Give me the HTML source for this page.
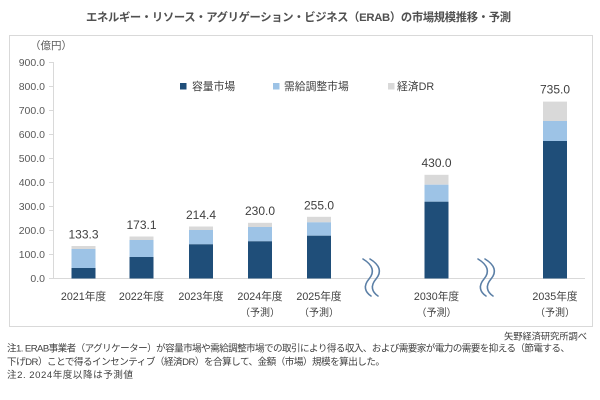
<!DOCTYPE html>
<html lang="ja">
<head>
<meta charset="utf-8">
<style>
  html,body{margin:0;padding:0;background:#fff;}
  body{width:600px;height:400px;overflow:hidden;}
  svg{display:block;font-family:"Liberation Sans","Noto Sans CJK JP",sans-serif;}
</style>
</head>
<body>
<svg width="600" height="400" viewBox="0 0 600 400" xmlns="http://www.w3.org/2000/svg">
  <rect x="0" y="0" width="600" height="400" fill="#fff"/>
  <text x="86" y="21" font-size="11.3" font-weight="bold" fill="#505050" textLength="425">エネルギー・リソース・アグリゲーション・ビジネス（ERAB）の市場規模推移・予測</text>

  <rect x="9.5" y="35.5" width="583" height="291" fill="none" stroke="#d9d9d9" stroke-width="1"/>

  <text x="51" y="49" font-size="10.5" fill="#595959" text-anchor="middle">（億円）</text>

  <g stroke="#d9d9d9" stroke-width="1">
    <line x1="53.5" y1="62" x2="53.5" y2="278"/>
    <line x1="49" y1="62.5" x2="53.5" y2="62.5"/>
    <line x1="49" y1="86.5" x2="53.5" y2="86.5"/>
    <line x1="49" y1="110.5" x2="53.5" y2="110.5"/>
    <line x1="49" y1="134.5" x2="53.5" y2="134.5"/>
    <line x1="49" y1="158.5" x2="53.5" y2="158.5"/>
    <line x1="49" y1="182.5" x2="53.5" y2="182.5"/>
    <line x1="49" y1="206.5" x2="53.5" y2="206.5"/>
    <line x1="49" y1="230.5" x2="53.5" y2="230.5"/>
    <line x1="49" y1="254.5" x2="53.5" y2="254.5"/>
    <line x1="49" y1="278.5" x2="585" y2="278.5"/>
  </g>
  <g font-size="10.5" fill="#595959" text-anchor="end">
    <text x="45" y="66">900.0</text>
    <text x="45" y="90">800.0</text>
    <text x="45" y="114">700.0</text>
    <text x="45" y="138">600.0</text>
    <text x="45" y="162">500.0</text>
    <text x="45" y="186">400.0</text>
    <text x="45" y="210">300.0</text>
    <text x="45" y="234">200.0</text>
    <text x="45" y="258">100.0</text>
    <text x="45" y="282">0.0</text>
  </g>

  <rect x="180" y="83" width="6.5" height="6.5" fill="#1f4e79"/>
  <text x="192" y="90" font-size="10.8" fill="#404040">容量市場</text>
  <rect x="273" y="83" width="6.5" height="6.5" fill="#9dc3e6"/>
  <text x="284" y="90" font-size="10.8" fill="#404040">需給調整市場</text>
  <rect x="388" y="83" width="6.5" height="6.5" fill="#d9d9d9"/>
  <text x="397" y="90" font-size="10.8" fill="#404040">経済DR</text>

  <g>
    <rect x="71.5" y="246" width="24" height="3" fill="#d9d9d9"/>
    <rect x="71.5" y="249" width="24" height="19" fill="#9dc3e6"/>
    <rect x="71.5" y="268" width="24" height="10.5" fill="#1f4e79"/>
    <rect x="129.5" y="236.5" width="24" height="3.5" fill="#d9d9d9"/>
    <rect x="129.5" y="240" width="24" height="17" fill="#9dc3e6"/>
    <rect x="129.5" y="257" width="24" height="21.5" fill="#1f4e79"/>
    <rect x="189" y="226.5" width="24" height="3.5" fill="#d9d9d9"/>
    <rect x="189" y="230" width="24" height="14.3" fill="#9dc3e6"/>
    <rect x="189" y="244.3" width="24" height="34.2" fill="#1f4e79"/>
    <rect x="248" y="222.8" width="24" height="4.2" fill="#d9d9d9"/>
    <rect x="248" y="227" width="24" height="14.3" fill="#9dc3e6"/>
    <rect x="248" y="241.3" width="24" height="37.2" fill="#1f4e79"/>
    <rect x="307" y="216.8" width="24" height="5.5" fill="#d9d9d9"/>
    <rect x="307" y="222.3" width="24" height="13.4" fill="#9dc3e6"/>
    <rect x="307" y="235.7" width="24" height="42.8" fill="#1f4e79"/>
    <rect x="424.5" y="174.8" width="24" height="9.9" fill="#d9d9d9"/>
    <rect x="424.5" y="184.7" width="24" height="17" fill="#9dc3e6"/>
    <rect x="424.5" y="201.7" width="24" height="76.8" fill="#1f4e79"/>
    <rect x="543" y="101.6" width="24" height="19.4" fill="#d9d9d9"/>
    <rect x="543" y="121" width="24" height="20" fill="#9dc3e6"/>
    <rect x="543" y="141" width="24" height="137.5" fill="#1f4e79"/>
  </g>

  <g font-size="12" fill="#404040" text-anchor="middle">
    <text x="83.5" y="238.5">133.3</text>
    <text x="141.5" y="229">173.1</text>
    <text x="201" y="219">214.4</text>
    <text x="260" y="215">230.0</text>
    <text x="319" y="209.5">255.0</text>
    <text x="436.5" y="166.8">430.0</text>
    <text x="555" y="93.5">735.0</text>
  </g>

  <g font-size="10.7" fill="#404040" text-anchor="middle">
    <text x="83.5" y="300">2021年度</text>
    <text x="141.5" y="300">2022年度</text>
    <text x="201" y="300">2023年度</text>
    <text x="260" y="300">2024年度</text>
    <text x="319" y="300">2025年度</text>
    <text x="436.5" y="300">2030年度</text>
    <text x="555" y="300">2035年度</text>
  </g>
  <g font-size="10" fill="#404040" text-anchor="middle">
    <text x="260" y="316">（予測）</text>
    <text x="319" y="316">（予測）</text>
    <text x="436.5" y="316">（予測）</text>
    <text x="555" y="316">（予測）</text>
  </g>

  <g fill="none" stroke="#5b7fa6" stroke-width="1.6" stroke-linecap="round">
    <path d="M363 259 C373 265,375 272,369 279 C363 286,365 292,371 296"/>
    <path d="M370 259 C380 265,382 272,376 279 C370 286,372 292,378 296"/>
    <path d="M478 259 C488 265,490 272,484 279 C478 286,480 292,486 296"/>
    <path d="M485 259 C495 265,497 272,491 279 C485 286,487 292,493 296"/>
  </g>

  <text x="587" y="339.5" font-size="9.3" fill="#404040" text-anchor="end" textLength="83">矢野経済研究所調べ</text>
  <g font-size="9.6" fill="#404040">
    <text x="7" y="351.5" textLength="563">注1. ERAB事業者（アグリケーター）が容量市場や需給調整市場での取引により得る収入、および需要家が電力の需要を抑える（節電する、</text>
    <text x="7" y="365" textLength="378">下げDR）ことで得るインセンティブ（経済DR）を合算して、金額（市場）規模を算出した。</text>
    <text x="7" y="378" textLength="126">注2. 2024年度以降は予測値</text>
  </g>
</svg>
</body>
</html>
